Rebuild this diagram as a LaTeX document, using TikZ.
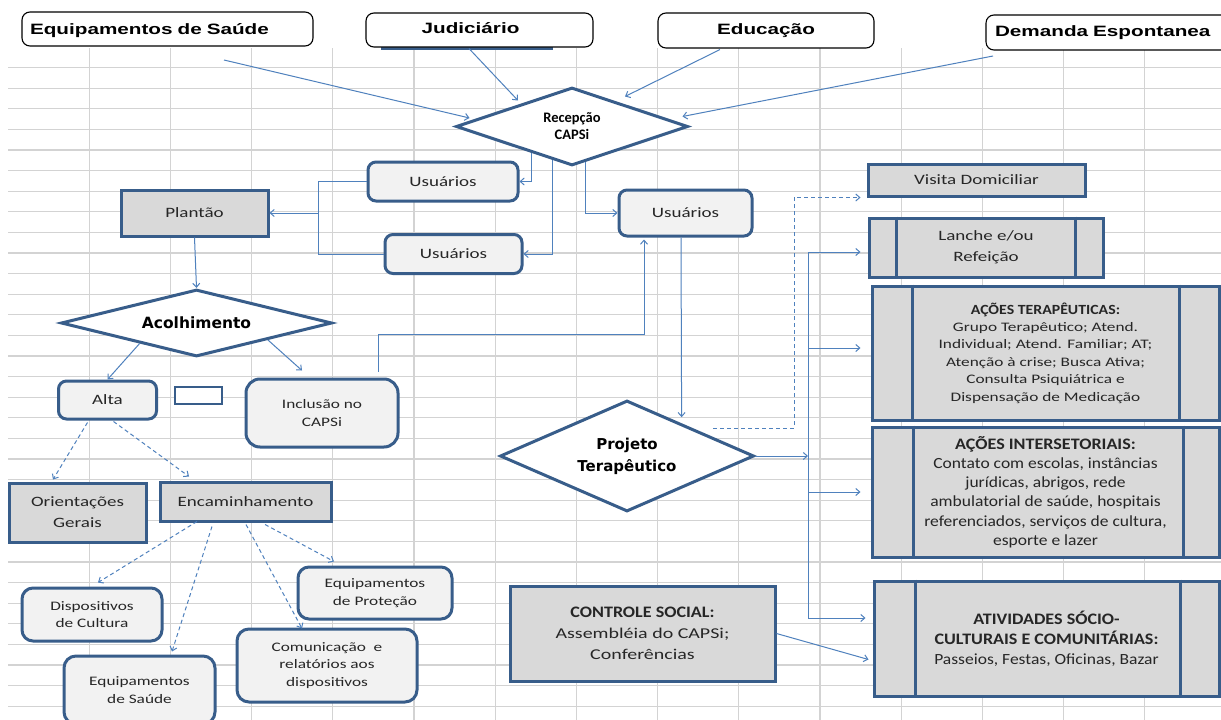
\documentclass[tikz,border=0pt]{standalone}
\usepackage{fontspec}
\usetikzlibrary{shapes.geometric,arrows.meta,calc}
\newfontfamily\topf{Liberation Sans}[FakeStretch=1.38]
\newfontfamily\cs{Carlito}[FakeStretch=1.33]
\newfontfamily\cm{Carlito}[FakeStretch=1.13]
\newfontfamily\caln{Carlito}
\newfontfamily\dvn{DejaVu Sans}
\definecolor{boxblue}{HTML}{385D8A}
\definecolor{connblue}{HTML}{4F81BD}
\definecolor{grayfill}{HTML}{D9D9D9}
\definecolor{lightfill}{HTML}{F2F2F2}
\definecolor{gridgray}{HTML}{D3D3D3}
\definecolor{txt}{HTML}{262626}
\begin{document}
\begin{tikzpicture}[x=1pt,y=-1pt,
  gridline/.style={draw=gridgray,line width=1.2pt},
  topbox/.style={draw=black,line width=1.1pt,rounded corners=8pt,fill=white,inner sep=0pt,font=\topf\bfseries\fontsize{15}{18}\selectfont},
  bluebox/.style={draw=boxblue,line width=3pt,inner sep=0pt,align=center,text=txt},
  roundbox/.style={bluebox,rounded corners=8pt,fill=lightfill},
  graybox/.style={bluebox,fill=grayfill},
  decision/.style={diamond,draw=boxblue,line width=3pt,fill=white,inner sep=0pt,align=center},
  conn/.style={draw=connblue,line width=1pt,-{Straight Barb[length=4pt,width=7pt]}},
  plainconn/.style={draw=connblue,line width=1pt},
  dconn/.style={conn,dash pattern=on 4pt off 3pt},
  divline/.style={draw=boxblue,line width=3pt},
  fnA/.style={font=\cs\fontsize{14.3}{21}\selectfont},
  fnB/.style={font=\cs\fontsize{13}{17.5}\selectfont},
]
\useasboundingbox (0,0) rectangle (1221,720);
\fill[white] (0,0) rectangle (1221,720);
% spreadsheet grid
\foreach \k in {1,...,14} \draw[gridline] ({8+81.2*\k},48) -- ({8+81.2*\k},720);
\foreach \k in {0,...,31} \draw[gridline] (8,{67.6+20.6*\k}) -- (1221,{67.6+20.6*\k});

% top sources
\draw[boxblue,line width=3pt] (381,48.5) -- (553,48.5);
\node[topbox,minimum width=291pt,minimum height=34pt,text width=275pt,align=left,text depth=1pt] (eqs) at (167.5,29) {Equipamentos de Saúde};
\node[topbox,minimum width=227pt,minimum height=34pt,text depth=4pt] (jud) at (479.5,30) {Judiciário\hspace*{18pt}};
\node[topbox,minimum width=216pt,minimum height=35pt] (edu) at (766,30.5) {Educação};
\node[topbox,minimum width=254pt,minimum height=35pt,text width=236pt,align=left] (dem) at (1113,32.5) {Demanda Espontanea};

% decisions
\node[decision,minimum width=232pt,minimum height=78pt,shape aspect=3,font=\caln\bfseries\fontsize{14.5}{17}\selectfont] (rec) at (572,126.5) {Recepção\\CAPSi};
\node[decision,minimum width=271pt,minimum height=67pt,shape aspect=4,font=\dvn\bfseries\fontsize{15.5}{18}\selectfont] (acol) at (196.5,323) {Acolhimento};
\node[decision,minimum width=254pt,minimum height=111pt,shape aspect=2.3,font=\dvn\bfseries\fontsize{15}{22}\selectfont] (proj) at (627,456) {Projeto\\Terapêutico};

% boxes
\node[roundbox,fnA,minimum width=150pt,minimum height=39pt] (us1) at (443,181.5) {Usuários};
\node[roundbox,fnA,minimum width=137pt,minimum height=39pt] (us2) at (453.5,254) {Usuários};
\node[roundbox,fnA,minimum width=133pt,minimum height=46pt] (us3) at (685.5,213) {Usuários};
\node[graybox,fnA,minimum width=147pt,minimum height=46pt] (plantao) at (194.5,213) {Plantão};
\node[roundbox,fnA,minimum width=98pt,minimum height=38pt] (alta) at (107.5,400) {Alta};
\node[bluebox,line width=2.5pt,fill=white,minimum width=47pt,minimum height=17pt] (blank) at (198.5,395.5) {};
\node[roundbox,fnB,rounded corners=14pt,minimum width=152pt,minimum height=68pt] (incl) at (322,413) {Inclusão no\\CAPSi};
\node[graybox,fnA,minimum width=137pt,minimum height=59pt] (orient) at (77.5,512.5) {Orientações\\Gerais};
\node[graybox,fnA,minimum width=171pt,minimum height=39pt] (enc) at (245.5,501.5) {Encaminhamento};
\node[roundbox,fnB,rounded corners=11pt,minimum width=140pt,minimum height=53pt] (disp) at (92,614.5) {Dispositivos\\de Cultura};
\node[roundbox,fnB,rounded corners=12pt,minimum width=151pt,minimum height=68pt] (eqs2) at (139.5,690) {Equipamentos\\de Saúde};
\node[roundbox,fnB,rounded corners=11pt,minimum width=154pt,minimum height=52pt] (prot) at (375,593) {Equipamentos\\de Proteção};
\node[roundbox,fnB,rounded corners=12pt,minimum width=180pt,minimum height=73pt] (com) at (327,665.5) {Comunicação\ \ e\\relatórios aos\\dispositivos};
\node[graybox,minimum width=265pt,minimum height=95pt,font=\cs\fontsize{15}{21}\selectfont] (ctrl) at (642.5,633.5) {{\cm\bfseries\fontsize{16}{21}\selectfont CONTROLE SOCIAL:}\\Assembléia do CAPSi;\\Conferências};

% right column
\node[graybox,fnA,minimum width=217pt,minimum height=32pt] (visita) at (976.5,180) {Visita Domiciliar};
\node[graybox,fnA,minimum width=234pt,minimum height=59pt] (lanche) at (986,247.5) {Lanche e/ou\\Refeição};
\node[graybox,minimum width=347pt,minimum height=134pt,font=\cs\fontsize{13}{17.4}\selectfont] (terap) at (1045.5,353) {{\cm\bfseries\fontsize{14}{16}\selectfont AÇÕES TERAPÊUTICAS:}\\Grupo Terapêutico; Atend.\\Individual; Atend. Familiar; AT;\\Atenção à crise; Busca Ativa;\\Consulta Psiquiátrica e\\Dispensação de Medicação};
\node[graybox,minimum width=347pt,minimum height=130pt,font=\cm\fontsize{15.5}{19.2}\selectfont] (inter) at (1045.5,492) {{\cm\bfseries\fontsize{16}{19.2}\selectfont AÇÕES INTERSETORIAIS:}\\Contato com escolas, instâncias\\jurídicas, abrigos, rede\\ambulatorial de saúde, hospitais\\referenciados, serviços de cultura,\\esporte e lazer};
\node[graybox,minimum width=345pt,minimum height=115pt,font=\cm\fontsize{15.5}{20}\selectfont] (ativ) at (1046.5,638.5) {{\cm\bfseries\fontsize{16}{20}\selectfont ATIVIDADES SÓCIO-}\\{\cm\bfseries\fontsize{16}{20}\selectfont CULTURAIS E COMUNITÁRIAS:}\\Passeios, Festas, Oficinas, Bazar};

% predefined-process bars
\draw[divline] ($(lanche.north west)+(29,0)$) -- ($(lanche.south west)+(29,0)$);
\draw[divline] ($(lanche.north east)+(-29,0)$) -- ($(lanche.south east)+(-29,0)$);
\draw[divline] ($(terap.north west)+(42,0)$) -- ($(terap.south west)+(42,0)$);
\draw[divline] ($(terap.north east)+(-41,0)$) -- ($(terap.south east)+(-41,0)$);
\draw[divline] ($(inter.north west)+(43,0)$) -- ($(inter.south west)+(43,0)$);
\draw[divline] ($(inter.north east)+(-37,0)$) -- ($(inter.south east)+(-37,0)$);
\draw[divline] ($(ativ.north west)+(43,0)$) -- ($(ativ.south west)+(43,0)$);
\draw[divline] ($(ativ.north east)+(-40,0)$) -- ($(ativ.south east)+(-40,0)$);

% connectors into Recepção
\coordinate (eqsout) at (224,60);
\coordinate (demout) at (993,56);
\draw[conn] (eqsout) -- ($(rec.west)+(15,-8.5)$);
\draw[conn] ($(jud.south)+(-10.5,1)$) -- ($(rec.north)+(-54,14.5)$);
\draw[conn] ($(edu.south)+(-46,1)$) -- ($(rec.north)+(53,10.5)$);
\draw[conn] (demout) -- ($(rec.east)+(-7,-10)$);

% Recepção to Usuários
\draw[conn] ($(rec.south)!0.345!(rec.west)$) |- (us1.east);
\draw[conn] ($(rec.south)!0.164!(rec.west)$) |- (us2.east);
\draw[conn] ($(rec.south)!0.112!(rec.east)$) |- (us3.west);

% Usuários to Plantão
\coordinate (bj) at (318,213);
\draw[plainconn] (us1.west) -| (bj);
\draw[plainconn] (us2.west) -| (bj);
\draw[conn] (bj) -- (plantao.east);
\draw[conn] (plantao.south) -- (acol.north);

% Acolhimento
\draw[conn] ($(acol.south)!0.415!(acol.west)$) -- (alta.north);
\draw[conn] ($(acol.south)!0.52!(acol.east)$) -- ($(incl.north)+(-20,-7)$);
\coordinate (ia) at ($(incl.north east)+(-21,-43)$);
\draw[conn] ($(incl.north east)+(-21,-6)$) -- (ia) -| ($(us3.south)+(-41.5,2)$);
\draw[conn] ($(us3.south)+(-4.5,0)$) -- ($(proj.north)!0.425!(proj.east)+(0,-6)$);

% Projeto to the right column
\draw[dconn] ($(proj.north)!0.67!(proj.east)+(0,-9)$) -- ++(81,0) |- ($(visita.south west)+(-6,0)$);
\coordinate (busj) at (808,456);
\coordinate (bus1) at (808,252);
\coordinate (bus2) at (808,348);
\coordinate (bus3) at (808,492);
\coordinate (bus4) at (808,618);
\draw[conn] (proj.east) -- (busj);
\draw[plainconn] (bus1) -- (bus4);
\draw[conn,shorten >=7pt] (bus1) -- (bus1 -| lanche.west);
\draw[conn,shorten >=10pt] (bus2) -- (bus2 -| terap.west);
\draw[conn,shorten >=10pt] (bus3) -- (bus3 -| inter.west);
\draw[conn,shorten >=7pt] (bus4) -- (bus4 -| ativ.west);
\draw[conn] (ctrl.east) -- ($(ativ.west)+(-4,21)$);

% Alta / Encaminhamento (dashed)
\draw[dconn] ($(alta.south)+(-20,2)$) -- ($(orient.north)+(-24.5,-2)$);
\draw[dconn] ($(alta.south)+(6,1)$) -- ($(enc.north)+(-56.5,-4)$);
\draw[dconn] ($(enc.south)+(-48.5,-1)$) -- ($(disp.north)+(6,-4)$);
\draw[dconn] ($(enc.south)+(-33.5,4)$) -- ($(eqs2.north)+(32.5,-3)$);
\draw[dconn] ($(enc.south)+(0.5,2)$) -- ($(com.north)+(-25,1)$);
\draw[dconn] ($(enc.south)+(19.5,2)$) -- ($(prot.north)+(-41,-4)$);
\end{tikzpicture}
\end{document}
